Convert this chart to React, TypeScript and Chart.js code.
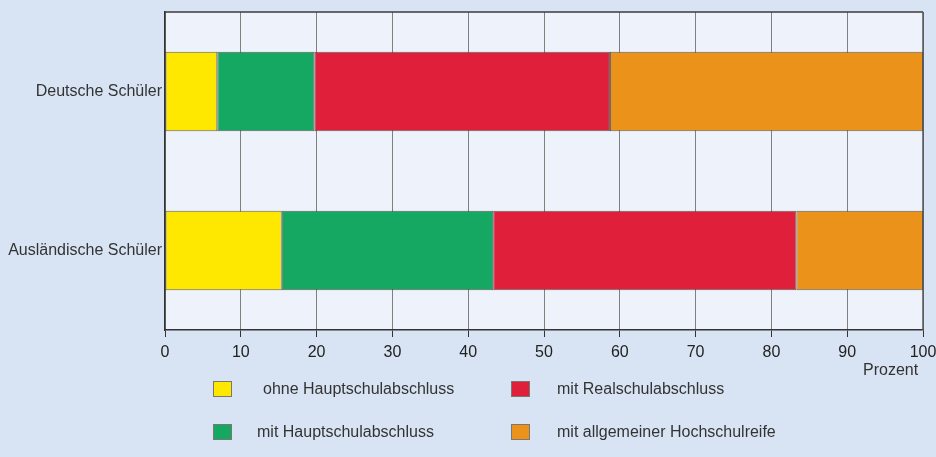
import React, { useEffect, useRef } from "react";
import { Chart, registerables } from "chart.js";

Chart.register(...registerables);

const categories = ["Deutsche Schüler", "Ausländische Schüler"];
const seriesLabels = [
  "ohne Hauptschulabschluss",
  "mit Hauptschulabschluss",
  "mit Realschulabschluss",
  "mit allgemeiner Hochschulreife",
];
const ohneHauptschul = [6.9, 15.4];
const mitHauptschul = [12.8, 27.9];
const mitRealschul = [39.0, 40.0];
const mitHochschulreife = [41.3, 16.7];
const seriesColors = ["#FFE800", "#14A862", "#E0203A", "#EA9219"];
const xTicks = [0, 10, 20, 30, 40, 50, 60, 70, 80, 90, 100];
const axisTitle = "Prozent";

const FONT = "'Liberation Sans', Arial, Helvetica, sans-serif";

const frame = {
  id: "frame",
  beforeDraw(chart: any) {
    const { ctx, chartArea: a } = chart;
    ctx.save();
    ctx.fillStyle = "#EEF2FB";
    ctx.fillRect(a.left, a.top, a.right - a.left, a.bottom - a.top);
    ctx.restore();
  },
  afterDraw(chart: any) {
    const { ctx, chartArea: a } = chart;
    ctx.save();
    ctx.strokeStyle = "#3a3a3a";
    ctx.lineWidth = 1.5;
    ctx.beginPath();
    ctx.moveTo(a.left, a.top);
    ctx.lineTo(a.right, a.top);
    ctx.stroke();
    ctx.strokeStyle = "#555";
    ctx.beginPath();
    ctx.moveTo(a.right, a.top);
    ctx.lineTo(a.right, a.bottom);
    ctx.stroke();
    ctx.restore();
  },
};

export default function App() {
  const ref = useRef<HTMLCanvasElement>(null);
  useEffect(() => {
    document.body.style.margin = "0";
    const data = [ohneHauptschul, mitHauptschul, mitRealschul, mitHochschulreife];
    const chart = new Chart(ref.current!, {
      type: "bar",
      data: {
        labels: categories,
        datasets: seriesLabels.map((l, i) => ({
          label: l,
          data: data[i],
          backgroundColor: seriesColors[i],
          borderColor: "rgba(60,60,50,0.8)",
          borderWidth: 1,
          borderSkipped: false,
          barPercentage: 0.5,
          categoryPercentage: 1,
        })),
      },
      options: {
        indexAxis: "y",
        animation: false,
        responsive: false,
        maintainAspectRatio: false,
        layout: { padding: { top: 12, right: 13, left: 0, bottom: 0 } },
        plugins: { legend: { display: false }, tooltip: { enabled: false } },
        scales: {
          x: {
            stacked: true,
            min: 0,
            max: 100,
            afterBuildTicks: (s: any) => {
              s.ticks = xTicks.map((v) => ({ value: v }));
            },
            afterFit: (s: any) => {
              s.height = 127;
              s.paddingLeft = 0;
              s.paddingRight = 0;
            },
            grid: {
              color: "#808080",
              lineWidth: 1,
              drawTicks: true,
              tickLength: 7,
              tickColor: "#333",
            },
            border: { color: "#333", width: 1.5 },
            ticks: {
              color: "#222",
              padding: 6,
              font: { family: FONT, size: 16 },
              maxRotation: 0,
            },
          },
          y: {
            stacked: true,
            afterFit: (s: any) => {
              s.width = 165;
              s.paddingTop = 0;
              s.paddingBottom = 0;
            },
            grid: { display: false, drawTicks: false },
            border: { color: "#333", width: 1.5 },
            ticks: {
              color: "#333",
              padding: 3,
              font: { family: FONT, size: 16 },
            },
          },
        },
      },
      plugins: [frame],
    });
    return () => chart.destroy();
  }, []);

  const legendItem = (i: number, boxX: number, textX: number, y: number) => (
    <React.Fragment key={i}>
      <div
        style={{
          position: "absolute",
          left: boxX,
          top: y,
          width: 19,
          height: 16,
          boxSizing: "border-box",
          background: seriesColors[i],
          border: "1px solid #777",
        }}
      />
      <div
        style={{
          position: "absolute",
          left: textX,
          top: y - 1,
          fontFamily: FONT,
          fontSize: 16,
          color: "#333",
          lineHeight: "18px",
          whiteSpace: "nowrap",
        }}
      >
        {seriesLabels[i]}
      </div>
    </React.Fragment>
  );

  return (
    <div
      style={{
        position: "fixed",
        left: 0,
        top: 0,
        width: 936,
        height: 457,
        background: "#D8E4F4",
        overflow: "hidden",
      }}
    >
      <canvas ref={ref} width={936} height={457} style={{ display: "block" }} />
      <div
        style={{
          position: "absolute",
          left: 863,
          top: 361,
          fontFamily: FONT,
          fontSize: 16,
          color: "#333",
          lineHeight: "18px",
        }}
      >
        {axisTitle}
      </div>
      {legendItem(0, 213, 263, 381)}
      {legendItem(2, 511, 557, 381)}
      {legendItem(1, 213, 257, 424)}
      {legendItem(3, 511, 557, 424)}
    </div>
  );
}
